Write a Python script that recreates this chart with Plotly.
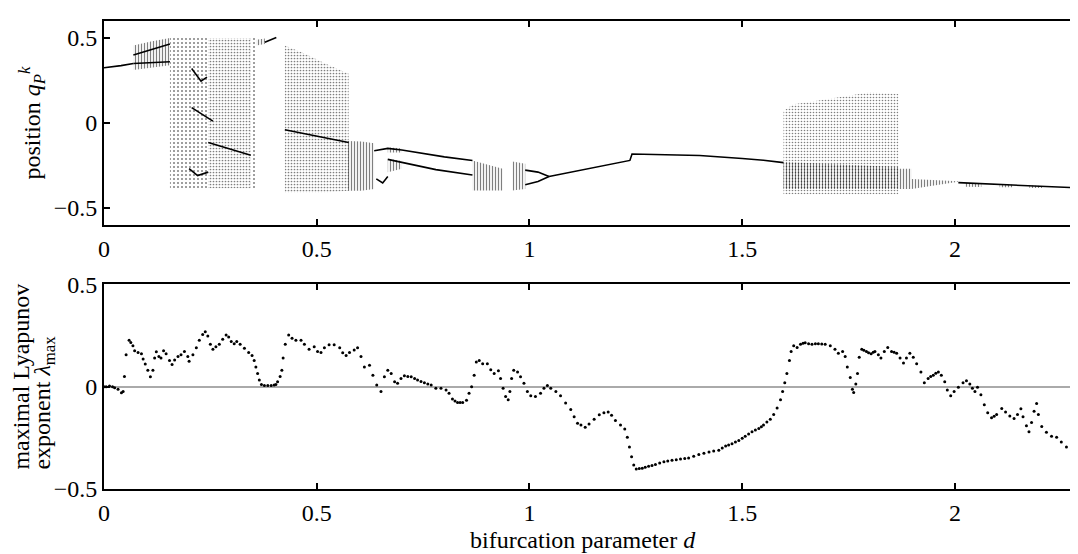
import plotly.graph_objects as go

# ---------------- bottom panel: maximal Lyapunov exponent ----------------
lyap_d = [0.0, 0.005, 0.013, 0.02, 0.025, 0.033, 0.041, 0.045, 0.048, 0.052, 0.059, 0.063, 0.068, 0.072,
          0.08, 0.088, 0.092, 0.097, 0.103, 0.109, 0.115, 0.119, 0.123, 0.129, 0.134, 0.14, 0.146, 0.154,
          0.16, 0.166, 0.174, 0.181, 0.189, 0.197, 0.2, 0.209, 0.217, 0.224, 0.232, 0.238, 0.244, 0.25,
          0.256, 0.263, 0.271, 0.279, 0.287, 0.293, 0.299, 0.306, 0.312, 0.32, 0.33, 0.34, 0.348, 0.353,
          0.357, 0.361, 0.365, 0.37, 0.377, 0.385, 0.393, 0.4, 0.404, 0.408, 0.414, 0.418, 0.421, 0.426,
          0.434, 0.442, 0.451, 0.463, 0.471, 0.482, 0.494, 0.502, 0.51, 0.518, 0.529, 0.541, 0.554, 0.561,
          0.569, 0.577, 0.588, 0.596, 0.604, 0.612, 0.624, 0.632, 0.641, 0.651, 0.659, 0.667, 0.675, 0.683,
          0.69, 0.698, 0.706, 0.714, 0.722, 0.73, 0.737, 0.745, 0.753, 0.761, 0.769, 0.78, 0.792, 0.804,
          0.811, 0.819, 0.825, 0.831, 0.837, 0.843, 0.852, 0.858, 0.864, 0.87, 0.875, 0.882, 0.89, 0.901,
          0.909, 0.917, 0.927, 0.932, 0.938, 0.944, 0.95, 0.954, 0.958, 0.963, 0.972, 0.979, 0.987, 0.995,
          1.003, 1.014, 1.026, 1.034, 1.042, 1.05, 1.062, 1.073, 1.085, 1.097, 1.105, 1.113, 1.121, 1.131,
          1.14, 1.152, 1.164, 1.175, 1.185, 1.193, 1.202, 1.214, 1.224, 1.23, 1.235, 1.24, 1.245, 1.251,
          1.258, 1.265, 1.272, 1.28, 1.288, 1.296, 1.306, 1.316, 1.325, 1.335, 1.345, 1.355, 1.365, 1.374,
          1.386, 1.398, 1.41, 1.422, 1.433, 1.445, 1.453, 1.461, 1.468, 1.476, 1.484, 1.492, 1.5, 1.507,
          1.515, 1.523, 1.531, 1.539, 1.545, 1.55, 1.558, 1.566, 1.574, 1.582, 1.59, 1.595, 1.6, 1.605,
          1.611, 1.615, 1.621, 1.629, 1.637, 1.643, 1.648, 1.656, 1.664, 1.672, 1.679, 1.687, 1.695, 1.707,
          1.718, 1.726, 1.736, 1.742, 1.747, 1.754, 1.759, 1.762, 1.767, 1.771, 1.775, 1.781, 1.786, 1.792,
          1.797, 1.803, 1.808, 1.812, 1.82, 1.826, 1.834, 1.842, 1.851, 1.857, 1.863, 1.871, 1.879, 1.886,
          1.894, 1.902, 1.91, 1.92, 1.928, 1.937, 1.943, 1.949, 1.955, 1.961, 1.968, 1.976, 1.982, 1.99,
          1.998, 2.008, 2.019, 2.027, 2.035, 2.041, 2.047, 2.053, 2.061, 2.069, 2.077, 2.086, 2.092, 2.098,
          2.11, 2.119, 2.129, 2.139, 2.147, 2.155, 2.16, 2.168, 2.174, 2.18, 2.186, 2.192, 2.196, 2.204,
          2.215, 2.227, 2.239, 2.25, 2.262, 2.274, 2.283]
lyap_val = [0.0, 0.0, 0.003, 0.0, -0.005, -0.013, -0.03, -0.024, 0.05, 0.156, 0.226, 0.215, 0.2, 0.175,
            0.167, 0.16, 0.135, 0.11, 0.08, 0.048, 0.08, 0.14, 0.17, 0.147, 0.14, 0.175, 0.16, 0.128,
            0.108, 0.13, 0.147, 0.156, 0.172, 0.147, 0.124, 0.156, 0.19, 0.226, 0.255, 0.268, 0.247, 0.207,
            0.183, 0.195, 0.207, 0.231, 0.252, 0.242, 0.22, 0.21, 0.22, 0.207, 0.188, 0.167, 0.152, 0.128,
            0.096, 0.064, 0.032, 0.01, 0.006, 0.006, 0.006, 0.008, 0.01, 0.024, 0.05, 0.08, 0.14, 0.207,
            0.252, 0.236, 0.226, 0.226, 0.207, 0.183, 0.195, 0.172, 0.167, 0.19, 0.204, 0.204, 0.19, 0.165,
            0.152, 0.167, 0.179, 0.19, 0.147, 0.096, 0.104, 0.056, 0.008, -0.024, 0.048, 0.08, 0.064, 0.024,
            0.016, 0.04, 0.053, 0.05, 0.048, 0.04, 0.032, 0.025, 0.019, 0.013, 0.008, -0.008, -0.008, -0.016,
            -0.032, -0.06, -0.07, -0.077, -0.078, -0.077, -0.067, -0.032, 0.0, 0.056, 0.12, 0.128, 0.112, 0.112,
            0.083, 0.064, 0.077, 0.04, -0.008, -0.048, -0.064, -0.024, 0.04, 0.08, 0.072, 0.048, 0.016, -0.024,
            -0.045, -0.048, -0.032, -0.008, 0.005, -0.008, -0.024, -0.045, -0.08, -0.112, -0.147, -0.179, -0.188, -0.198,
            -0.183, -0.159, -0.137, -0.128, -0.124, -0.14, -0.166, -0.188, -0.207, -0.247, -0.295, -0.343, -0.383, -0.402,
            -0.4, -0.399, -0.394, -0.389, -0.385, -0.38, -0.373, -0.367, -0.363, -0.36, -0.357, -0.354, -0.351, -0.348,
            -0.34, -0.332, -0.325, -0.319, -0.315, -0.311, -0.3, -0.29, -0.285, -0.279, -0.271, -0.263, -0.252, -0.242,
            -0.231, -0.22, -0.212, -0.204, -0.196, -0.187, -0.173, -0.159, -0.136, -0.104, -0.064, -0.024, 0.019, 0.064,
            0.128, 0.172, 0.2, 0.191, 0.207, 0.212, 0.214, 0.21, 0.207, 0.209, 0.21, 0.208, 0.207, 0.2,
            0.183, 0.163, 0.172, 0.147, 0.096, 0.045, -0.013, -0.029, 0.013, 0.064, 0.144, 0.183, 0.178, 0.172,
            0.165, 0.16, 0.168, 0.172, 0.156, 0.14, 0.172, 0.191, 0.172, 0.168, 0.163, 0.14, 0.115, 0.14,
            0.163, 0.144, 0.112, 0.072, 0.019, 0.04, 0.05, 0.056, 0.065, 0.072, 0.056, 0.024, -0.016, -0.045,
            -0.024, -0.003, 0.019, 0.029, 0.013, -0.008, -0.024, -0.003, -0.04, -0.088, -0.128, -0.152, -0.145, -0.136,
            -0.107, -0.124, -0.144, -0.156, -0.136, -0.108, -0.147, -0.191, -0.22, -0.175, -0.12, -0.083, -0.136, -0.195,
            -0.223, -0.242, -0.247, -0.271, -0.295, -0.287, -0.306]

# ---------------- top panel: bifurcation diagram ----------------
# chaotic regions (sparse scattered iterates): d, lower edge, upper edge
chaos1_d, chaos1_lo, chaos1_hi = [0.155, 0.245], [-0.385, -0.385], [0.5, 0.5]
chaos2_d, chaos2_lo, chaos2_hi = [0.245, 0.345], [-0.385, -0.385], [0.5, 0.5]
chaos3_d, chaos3_lo, chaos3_hi = [0.345, 0.358], [-0.385, -0.385], [0.5, 0.5]
chaos4_d = [0.425, 0.47, 0.52, 0.575]
chaos4_lo = [-0.41, -0.41, -0.41, -0.40]
chaos4_hi = [0.455, 0.41, 0.35, 0.29]
chaos5_d = [1.597, 1.62, 1.65, 1.70, 1.75, 1.80, 1.867]
chaos5_lo = [-0.42, -0.42, -0.42, -0.42, -0.42, -0.42, -0.42]
chaos5_hi = [0.07, 0.11, 0.12, 0.14, 0.16, 0.18, 0.17]

# dense banded (densely sampled, striped) regions
band1_d, band1_lo, band1_hi = [0.069, 0.11, 0.155], [0.312, 0.325, 0.34], [0.455, 0.48, 0.5]
band2_d, band2_lo, band2_hi = [0.358, 0.378], [0.455, 0.465], [0.49, 0.497]
band3_d, band3_lo, band3_hi = [0.573, 0.605, 0.635], [-0.40, -0.40, -0.39], [-0.107, -0.11, -0.12]
band4_d, band4_lo, band4_hi = [0.667, 0.70], [-0.175, -0.175], [-0.145, -0.15]
band5_d, band5_lo, band5_hi = [0.667, 0.70], [-0.29, -0.27], [-0.211, -0.225]
band6_d, band6_lo, band6_hi = [0.866, 0.90, 0.937], [-0.398, -0.398, -0.398], [-0.221, -0.245, -0.27]
band7_d, band7_lo, band7_hi = [0.96, 0.99], [-0.398, -0.39], [-0.227, -0.24]
band8_d, band8_lo, band8_hi = [1.597, 1.70, 1.80, 1.867], [-0.39, -0.39, -0.39, -0.39], [-0.23, -0.24, -0.25, -0.26]
band9_d, band9_lo, band9_hi = [1.867, 1.898], [-0.39, -0.39], [-0.27, -0.27]
band10_d, band10_lo, band10_hi = [1.898, 1.95, 2.008], [-0.39, -0.37, -0.347], [-0.33, -0.335, -0.343]
band11_d, band11_lo, band11_hi = [2.024, 2.062], [-0.376, -0.377], [-0.354, -0.356]
band12_d, band12_lo, band12_hi = [2.105, 2.135], [-0.379, -0.379], [-0.363, -0.365]
band13_d, band13_lo, band13_hi = [2.175, 2.205], [-0.383, -0.383], [-0.369, -0.371]

# periodic branches
br1_d, br1_q = [0.0, 0.02, 0.04, 0.069], [0.325, 0.33, 0.337, 0.35]
br2_d, br2_q = [0.069, 0.11, 0.155], [0.40, 0.43, 0.465]
br3_d, br3_q = [0.069, 0.11, 0.155], [0.35, 0.355, 0.36]
br4_d, br4_q = [0.378, 0.405], [0.475, 0.503]
br5_d, br5_q = [0.206, 0.228, 0.242], [0.32, 0.246, 0.27]
br6_d, br6_q = [0.2, 0.22, 0.245], [-0.27, -0.31, -0.29]
br7_d, br7_q = [0.206, 0.256], [0.09, 0.01]
br8_d, br8_q = [0.245, 0.345], [-0.116, -0.19]
br9_d, br9_q = [0.425, 0.50, 0.575], [-0.04, -0.08, -0.116]
br10_d, br10_q = [0.635, 0.667, 0.70, 0.75, 0.80, 0.866], [-0.164, -0.15, -0.16, -0.18, -0.20, -0.221]
br11_d, br11_q = [0.64, 0.655, 0.667], [-0.33, -0.354, -0.316]
br12_d, br12_q = [0.667, 0.72, 0.78, 0.866], [-0.215, -0.245, -0.275, -0.307]
br13_d, br13_q = [0.99, 1.02, 1.046], [-0.278, -0.29, -0.316]
br14_d, br14_q = [0.99, 1.02, 1.046], [-0.364, -0.345, -0.316]
br15_d = [1.046, 1.1, 1.15, 1.2, 1.236, 1.241, 1.3, 1.4, 1.5, 1.55, 1.597]
br15_q = [-0.316, -0.29, -0.265, -0.24, -0.221, -0.183, -0.185, -0.192, -0.21, -0.22, -0.234]
br16_d = [2.008, 2.05, 2.1, 2.15, 2.2, 2.25, 2.29]
br16_q = [-0.352, -0.357, -0.364, -0.369, -0.374, -0.379, -0.383]

x_ticks = [0, 0.5, 1, 1.5, 2]
x_tick_text = ["0", "0.5", "1", "1.5", "2"]
y_ticks = [-0.5, 0, 0.5]
y_tick_text = ["\u22120.5", "0", "0.5"]

FONT = "Liberation Serif, Times New Roman, serif"
OFF = 8  # page body margin of the html page
W, H = 1078 - OFF, 554 - OFF
ML, MR, MT, MB = 104 - OFF, 0, 1, 65

fig = go.Figure()


def region(d, lo, hi, shape, size, solidity, color):
    fig.add_trace(go.Scatter(
        x=list(d) + list(d)[::-1], y=list(hi) + list(lo)[::-1],
        fill="toself", mode="lines", line=dict(width=0),
        fillcolor="rgba(0,0,0,0)",
        fillpattern=dict(shape=shape, size=size, solidity=solidity,
                         fgcolor=color, bgcolor="rgba(0,0,0,0)"),
        hoverinfo="skip", showlegend=False, xaxis="x", yaxis="y"))


region(chaos1_d, chaos1_lo, chaos1_hi, ".", 4, 0.2, "black")
region(chaos2_d, chaos2_lo, chaos2_hi, ".", 3, 0.26, "black")
region(chaos3_d, chaos3_lo, chaos3_hi, ".", 4, 0.2, "black")
region(chaos4_d, chaos4_lo, chaos4_hi, ".", 3, 0.26, "black")
region(chaos5_d, chaos5_lo, chaos5_hi, ".", 3, 0.22, "black")

for bd, blo, bhi in [(band1_d, band1_lo, band1_hi), (band2_d, band2_lo, band2_hi),
                     (band3_d, band3_lo, band3_hi), (band4_d, band4_lo, band4_hi),
                     (band5_d, band5_lo, band5_hi), (band6_d, band6_lo, band6_hi),
                     (band7_d, band7_lo, band7_hi), (band8_d, band8_lo, band8_hi),
                     (band9_d, band9_lo, band9_hi), (band10_d, band10_lo, band10_hi),
                     (band11_d, band11_lo, band11_hi), (band12_d, band12_lo, band12_hi),
                     (band13_d, band13_lo, band13_hi)]:
    region(bd, blo, bhi, "|", 3, 0.4, "black")

for bx, by in [(br1_d, br1_q), (br2_d, br2_q), (br3_d, br3_q), (br4_d, br4_q),
               (br5_d, br5_q), (br6_d, br6_q), (br7_d, br7_q), (br8_d, br8_q),
               (br9_d, br9_q), (br10_d, br10_q), (br11_d, br11_q), (br12_d, br12_q),
               (br13_d, br13_q), (br14_d, br14_q), (br15_d, br15_q), (br16_d, br16_q)]:
    fig.add_trace(go.Scatter(x=bx, y=by, mode="lines", line=dict(color="black", width=1.6),
                             hoverinfo="skip", showlegend=False, xaxis="x", yaxis="y"))

# bottom panel
fig.add_trace(go.Scatter(x=lyap_d, y=lyap_val, mode="markers",
                         marker=dict(color="black", size=3),
                         hoverinfo="skip", showlegend=False, xaxis="x2", yaxis="y2"))

axis_common = dict(showline=True, linecolor="black", linewidth=2, mirror="allticks",
                   ticks="inside", ticklen=6, tickwidth=1.5, tickcolor="black",
                   showgrid=False, zeroline=False,
                   tickfont=dict(family=FONT, size=24, color="black"))

plot_h = H - MT - MB
top_dom = [(H - MB - (218 - OFF)) / plot_h, 1.0]
bot_dom = [0.0, (H - MB - (279 - OFF)) / plot_h]
X_MAX = 2.2845

fig.update_layout(
    width=W, height=H,
    margin=dict(l=ML, r=MR, t=MT, b=MB),
    paper_bgcolor="white", plot_bgcolor="white",
    font=dict(family=FONT, size=24, color="black"),
    xaxis=dict(domain=[0, 1], range=[0, X_MAX], anchor="y", tickvals=x_ticks, ticktext=x_tick_text,
               ticklabelstandoff=1, **axis_common),
    yaxis=dict(domain=top_dom, range=[-0.6, 0.6], anchor="x", tickvals=y_ticks, ticktext=y_tick_text,
               **axis_common),
    xaxis2=dict(domain=[0, 1], range=[0, X_MAX], anchor="y2", tickvals=x_ticks, ticktext=x_tick_text,
                ticklabelstandoff=1, **axis_common),
    yaxis2=dict(domain=bot_dom, range=[-0.5, 0.5], anchor="x2", tickvals=y_ticks, ticktext=y_tick_text,
                **{**axis_common, "zeroline": True}, zerolinecolor="#aaaaaa", zerolinewidth=1.5),
)


def px_x(p):
    return (p - OFF - ML) / (W - ML - MR)


def px_y(p):
    return (H - MB - (p - OFF)) / plot_h


fig.add_annotation(text="position <i>q</i><sub><i>P</i></sub><sup><i>k</i></sup>",
                   xref="paper", yref="paper", x=px_x(32), y=px_y(113), textangle=-90,
                   xanchor="center", yanchor="middle", showarrow=False,
                   font=dict(family=FONT, size=24, color="black"))
fig.add_annotation(text="maximal Lyapunov",
                   xref="paper", yref="paper", x=px_x(21), y=px_y(471), textangle=-90,
                   xanchor="center", yanchor="bottom", showarrow=False,
                   font=dict(family=FONT, size=24, color="black"))
fig.add_annotation(text="exponent <i>λ</i><sub>max</sub>",
                   xref="paper", yref="paper", x=px_x(44), y=px_y(471), textangle=-90,
                   xanchor="center", yanchor="bottom", showarrow=False,
                   font=dict(family=FONT, size=24, color="black"))
fig.add_annotation(text="bifurcation parameter <i>d</i>",
                   xref="paper", yref="paper", x=px_x(584), y=px_y(541),
                   xanchor="center", yanchor="middle", showarrow=False,
                   font=dict(family=FONT, size=24, color="black"))

fig.write_html("out.html")
